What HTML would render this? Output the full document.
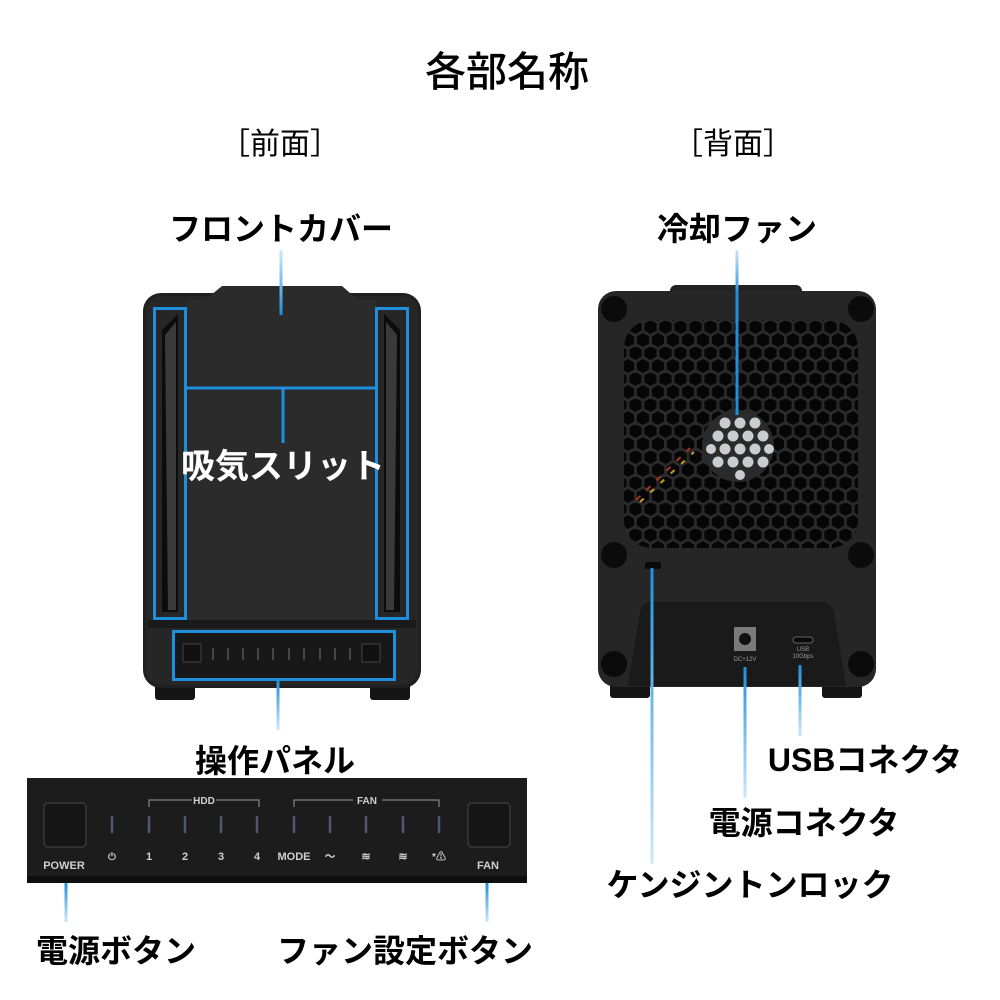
<!DOCTYPE html>
<html><head><meta charset="utf-8"><style>
html,body{margin:0;padding:0;background:#fff;}
svg{display:block;}
text{font-family:"Liberation Sans","Noto Sans CJK JP",sans-serif;}
</style></head><body>
<svg width="1000" height="1000" viewBox="0 0 1000 1000" xmlns="http://www.w3.org/2000/svg">
<defs>
<linearGradient id="gd" x1="0" y1="0" x2="0" y2="1"><stop offset="0" stop-color="#1e8fdc"/><stop offset="1" stop-color="#cfe8fa"/></linearGradient>
<linearGradient id="gu" x1="0" y1="1" x2="0" y2="0"><stop offset="0" stop-color="#1e8fdc"/><stop offset="1" stop-color="#cfe8fa"/></linearGradient>
<pattern id="hex" x="628" y="321" width="15" height="26" patternUnits="userSpaceOnUse">
<polygon points="7.5,-7 13.6,-3.5 13.6,3.5 7.5,7 1.4,3.5 1.4,-3.5" fill="#060606" transform="translate(0,6)"/>
<polygon points="7.5,-7 13.6,-3.5 13.6,3.5 7.5,7 1.4,3.5 1.4,-3.5" fill="#060606" transform="translate(7.5,19)"/>
<polygon points="7.5,-7 13.6,-3.5 13.6,3.5 7.5,7 1.4,3.5 1.4,-3.5" fill="#060606" transform="translate(-7.5,19)"/>
</pattern>
<clipPath id="gridclip"><rect x="624" y="320" width="234" height="228" rx="28"/></clipPath>
<clipPath id="fanclip"><circle cx="738" cy="446" r="36"/></clipPath>
</defs>

<text x="507" y="86" font-size="41" text-anchor="middle" font-weight="500">各部名称</text>
<text x="280" y="154" font-size="30" text-anchor="middle">［前面］</text>
<text x="733" y="154" font-size="30" text-anchor="middle">［背面］</text>
<text x="281" y="240" font-size="32" text-anchor="middle" font-weight="bold">フロントカバー</text>
<text x="737" y="240" font-size="32" text-anchor="middle" font-weight="bold">冷却ファン</text>

<!-- FRONT DEVICE -->
<rect x="155" y="680" width="40" height="20" rx="3" fill="#141414"/>
<rect x="370" y="680" width="40" height="20" rx="3" fill="#141414"/>
<rect x="143" y="293" width="278" height="395" rx="18" fill="#1f1f1f"/>
<rect x="146" y="296" width="272" height="389" rx="16" fill="#262626"/>
<path d="M205 300 L222 286 L342 286 L358 300 L358 620 L205 620 Z" fill="#2b2b2b"/>
<rect x="186" y="300" width="190" height="320" fill="#2b2b2b"/>
<path d="M162 330 L178 314 L178 612 L162 612 Z" fill="#0c0c0c"/>
<path d="M165 335 L176 322 L176 610 L168 610 Z" fill="#3a3a3a"/>
<path d="M400 330 L384 314 L384 612 L400 612 Z" fill="#0c0c0c"/>
<path d="M397 335 L386 322 L386 610 L394 610 Z" fill="#3a3a3a"/>
<rect x="148" y="620" width="268" height="8" fill="#1a1a1a"/>
<rect x="174" y="631" width="221" height="48" fill="#181818"/>
<rect x="154.5" y="308.5" width="31" height="310" fill="none" stroke="#1e8fdc" stroke-width="3"/>
<rect x="376.5" y="308.5" width="31" height="310" fill="none" stroke="#1e8fdc" stroke-width="3"/>
<line x1="186" y1="388" x2="376" y2="388" stroke="#1e8fdc" stroke-width="3"/>
<line x1="283" y1="388" x2="283" y2="443" stroke="#1e8fdc" stroke-width="3"/>
<rect x="279.5" y="250" width="3" height="65" fill="url(#gu)"/>
<text x="283" y="478" font-size="34" text-anchor="middle" font-weight="bold" fill="#fff">吸気スリット</text>
<rect x="173.5" y="631.5" width="221" height="48" fill="none" stroke="#1e8fdc" stroke-width="3"/>
<rect x="183" y="644" width="18" height="18" fill="#111" stroke="#444"/>
<rect x="362" y="644" width="18" height="18" fill="#111" stroke="#444"/>
<g stroke="#555" stroke-width="1.5">
<line x1="213" y1="648" x2="213" y2="660"/><line x1="228" y1="648" x2="228" y2="660"/><line x1="243" y1="648" x2="243" y2="660"/><line x1="258" y1="648" x2="258" y2="660"/><line x1="273" y1="648" x2="273" y2="660"/>
<line x1="289" y1="648" x2="289" y2="660"/><line x1="304" y1="648" x2="304" y2="660"/><line x1="320" y1="648" x2="320" y2="660"/><line x1="335" y1="648" x2="335" y2="660"/><line x1="350" y1="648" x2="350" y2="660"/>
</g>
<rect x="276.5" y="680" width="3" height="50" fill="url(#gd)"/>
<text x="275" y="772" font-size="32" text-anchor="middle" font-weight="bold">操作パネル</text>

<!-- PANEL -->
<rect x="27" y="778" width="500" height="105" fill="#1c1c1c"/>
<rect x="27" y="876" width="500" height="7" fill="#0e0e0e"/>
<rect x="44" y="803" width="42" height="44" rx="4" fill="#151515" stroke="#3a3a3a" stroke-width="1.5"/>
<rect x="468" y="803" width="42" height="44" rx="4" fill="#151515" stroke="#3a3a3a" stroke-width="1.5"/>
<g fill="#cfcfcf" font-size="11" font-weight="bold" text-anchor="middle">
<text x="64" y="869">POWER</text><text x="488" y="869">FAN</text>
<text x="112" y="860" font-size="10">⏻</text>
<text x="149" y="860">1</text><text x="185" y="860">2</text><text x="221" y="860">3</text><text x="257" y="860">4</text>
<text x="294" y="860">MODE</text>
<text x="330" y="860">〜</text><text x="366" y="860">≋</text><text x="403" y="860">≋</text><text x="439" y="860" font-size="10">*⚠</text>
<text x="204" y="804" font-size="10">HDD</text><text x="367" y="804" font-size="10">FAN</text>
</g>
<g fill="none" stroke="#9a9a9a" stroke-width="1">
<path d="M149 807 V800 H192 M216 800 H259 V807"/>
<path d="M294 807 V800 H353 M382 800 H439 V807"/>
</g>
<g stroke="#4f5870" stroke-width="2.5" stroke-linecap="round">
<line x1="112" y1="817" x2="112" y2="832"/><line x1="149" y1="817" x2="149" y2="832"/><line x1="185" y1="817" x2="185" y2="832"/><line x1="221" y1="817" x2="221" y2="832"/><line x1="257" y1="817" x2="257" y2="832"/>
<line x1="294" y1="817" x2="294" y2="832"/><line x1="330" y1="817" x2="330" y2="832"/><line x1="366" y1="817" x2="366" y2="832"/><line x1="403" y1="817" x2="403" y2="832"/><line x1="439" y1="817" x2="439" y2="832"/>
</g>
<rect x="64.5" y="883" width="3" height="39" fill="url(#gd)"/>
<rect x="485.5" y="883" width="3" height="39" fill="url(#gd)"/>
<text x="116" y="962" font-size="32" text-anchor="middle" font-weight="bold">電源ボタン</text>
<text x="405" y="962" font-size="32" text-anchor="middle" font-weight="bold">ファン設定ボタン</text>

<!-- BACK DEVICE -->
<rect x="670" y="285" width="132" height="14" rx="6" fill="#222"/>
<rect x="610" y="680" width="40" height="18" rx="3" fill="#141414"/>
<rect x="822" y="680" width="40" height="18" rx="3" fill="#141414"/>
<rect x="598" y="291" width="278" height="396" rx="18" fill="#262626"/>
<g clip-path="url(#gridclip)">
<rect x="620" y="315" width="245" height="240" fill="#2a2a2a"/>
<rect x="620" y="315" width="245" height="240" fill="url(#hex)"/>
</g>
<circle cx="738" cy="446" r="36" fill="#2a2a2a"/>
<g fill="#c9ccd0">
<circle cx="725" cy="423" r="5.5"/><circle cx="740" cy="423" r="5.5"/><circle cx="755" cy="423" r="5.5"/>
<circle cx="718" cy="436" r="5.5"/><circle cx="733" cy="436" r="5.5"/><circle cx="748" cy="436" r="5.5"/><circle cx="763" cy="436" r="5.5"/>
<circle cx="725" cy="449" r="5.5"/><circle cx="740" cy="449" r="5.5"/><circle cx="755" cy="449" r="5.5"/><circle cx="711" cy="449" r="5"/><circle cx="769" cy="449" r="5"/>
<circle cx="718" cy="462" r="5.5"/><circle cx="733" cy="462" r="5.5"/><circle cx="748" cy="462" r="5.5"/><circle cx="763" cy="462" r="5.5"/>
<circle cx="740" cy="475" r="5"/>
</g>
<path d="M636 500 L690 448" stroke="#a8321e" stroke-width="2" stroke-dasharray="6 8"/>
<path d="M640 502 L694 452" stroke="#c8a020" stroke-width="2" stroke-dasharray="5 9"/>
<g fill="#0b0b0b">
<circle cx="614" cy="309" r="13"/><circle cx="861" cy="309" r="13"/>
<circle cx="614" cy="555" r="13"/><circle cx="861" cy="555" r="13"/>
<circle cx="614" cy="664" r="13"/><circle cx="861" cy="664" r="13"/>
</g>
<rect x="645" y="562" width="16" height="7" rx="2" fill="#0a0a0a"/>
<path d="M640 612 Q642 602 652 602 L822 602 Q832 602 834 612 L846 686 L628 686 Z" fill="#1a1a1a"/>
<rect x="734" y="627" width="22" height="24" fill="#7a7a7a"/>
<circle cx="745" cy="639" r="6" fill="#111"/>
<rect x="793" y="637" width="20" height="6" rx="3" fill="#0a0a0a" stroke="#666"/>
<text x="745" y="661" font-size="6" fill="#999" text-anchor="middle">DC+12V</text>
<text x="803" y="651" font-size="6" fill="#999" text-anchor="middle">USB</text>
<text x="803" y="658" font-size="6" fill="#999" text-anchor="middle">10Gbps</text>
<rect x="735.5" y="250" width="3" height="45" fill="url(#gu)"/>
<rect x="735.5" y="290" width="3" height="125" fill="#1e8fdc"/>
<rect x="650.5" y="568" width="3" height="296" fill="url(#gd)"/>
<rect x="743.5" y="667" width="3" height="131" fill="url(#gd)"/>
<rect x="798.5" y="665" width="3" height="71" fill="url(#gd)"/>
<text x="865" y="771" font-size="32" text-anchor="middle" font-weight="bold">USBコネクタ</text>
<text x="804" y="834" font-size="32" text-anchor="middle" font-weight="bold">電源コネクタ</text>
<text x="750" y="896" font-size="32" text-anchor="middle" font-weight="bold">ケンジントンロック</text>
</svg>
</body></html>
